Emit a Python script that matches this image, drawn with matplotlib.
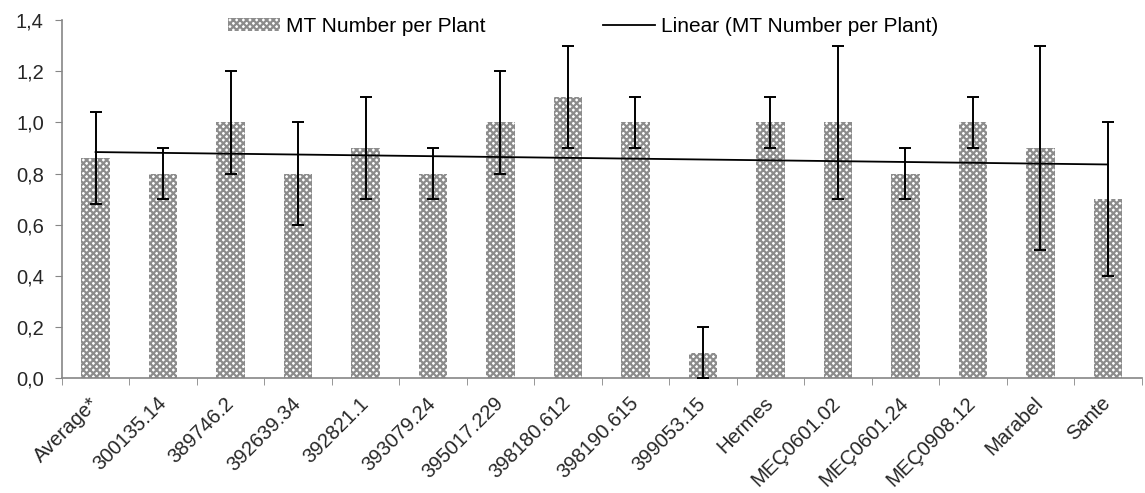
import numpy as np
import matplotlib.pyplot as plt
from matplotlib.ticker import FuncFormatter, FixedLocator
from matplotlib.patches import Patch
from matplotlib.lines import Line2D
from matplotlib.transforms import ScaledTranslation

genotipos = ['Average*', '300135.14', '389746.2', '392639.34', '392821.1', '393079.24',
             '395017.229', '398180.612', '398190.615', '399053.15', 'Hermes', 'MEÇ0601.02',
             'MEÇ0601.24', 'MEÇ0908.12', 'Marabel', 'Sante']
mt_por_planta = [0.86, 0.8, 1.0, 0.8, 0.9, 0.8, 1.0, 1.1, 1.0, 0.1, 1.0, 1.0, 0.8, 1.0, 0.9, 0.7]
erro = [0.18, 0.1, 0.2, 0.2, 0.2, 0.1, 0.2, 0.2, 0.1, 0.1, 0.1, 0.3, 0.1, 0.1, 0.4, 0.3]

plt.rcParams['font.family'] = ['Liberation Sans', 'DejaVu Sans']
plt.rcParams['hatch.linewidth'] = 1.6

fig = plt.figure(figsize=(11.45, 4.93), dpi=100)
ax = fig.add_axes([0.054, 0.233, 0.943, 0.726])

x = np.arange(len(genotipos))
ax.bar(x, mt_por_planta, width=0.42, color='white', edgecolor='#8c8c8c',
       hatch='xxxxx', linewidth=0, zorder=2)
ax.errorbar(x, mt_por_planta, yerr=erro, fmt='none', ecolor='black',
            elinewidth=1.4, capsize=4, capthick=1.4, zorder=4)

# linha de tendencia linear (como no Excel)
declive, origem = np.polyfit(x + 1, mt_por_planta, 1)
ax.plot(x, declive * (x + 1) + origem, color='black', linewidth=1.3, zorder=3)

ax.set_xlim(-0.5, len(genotipos) - 0.5)
ax.set_ylim(0, 1.4)
ax.set_yticks(np.arange(0, 1.41, 0.2))
ax.yaxis.set_major_formatter(FuncFormatter(lambda v, p: f'{v:.1f}'.replace('.', ',')))

ax.set_xticks(x)
ax.set_xticklabels(genotipos, rotation=45, ha='right', va='center',
                   rotation_mode='anchor', fontsize=14.5, color='#262626')
desloc = ScaledTranslation(4 / 100, 0, fig.dpi_scale_trans)
for rotulo in ax.get_xticklabels():
    rotulo.set_transform(rotulo.get_transform() + desloc)
ax.xaxis.set_minor_locator(FixedLocator(np.arange(-0.5, len(genotipos), 1)))
ax.tick_params(axis='x', which='major', length=0, pad=16)
ax.tick_params(axis='x', which='minor', length=5, color='#868686')
ax.tick_params(axis='y', length=5, color='#868686', pad=8, labelsize=14.5,
               labelcolor='#262626')

for lado in ['top', 'right']:
    ax.spines[lado].set_visible(False)
for lado in ['left', 'bottom']:
    ax.spines[lado].set_color('#868686')
    ax.spines[lado].set_linewidth(1.2)

handles = [Patch(facecolor='white', edgecolor='#8c8c8c', hatch='xxxxx', linewidth=0),
           Line2D([0], [0], color='black', linewidth=1.3)]
ax.legend(handles, ['MT Number per Plant', 'Linear (MT Number per Plant)'],
          loc='upper left', bbox_to_anchor=(0.154, 1.01), ncol=2, frameon=False,
          fontsize=15, columnspacing=5.6, handlelength=2.5, handleheight=0.55,
          handletextpad=0.3, borderpad=0, borderaxespad=0)

plt.savefig('out.png', dpi=100)
plt.close()
